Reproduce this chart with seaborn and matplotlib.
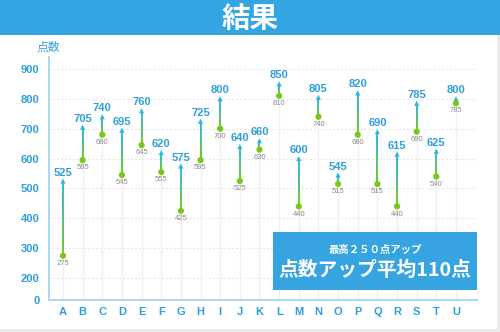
import numpy as np
import matplotlib
matplotlib.use("Agg")
import matplotlib.pyplot as plt
from matplotlib.collections import LineCollection
from matplotlib.colors import to_rgb
from matplotlib.patches import Rectangle
import seaborn as sns
import pandas as pd

# Scores before (low) and after (high) for each student
students = list("ABCDEFGHIJKLMNOPQRSTU")
before = [275, 595, 680, 545, 645, 555, 425, 595, 700, 525, 630,
          810, 440, 740, 515, 680, 515, 440, 690, 540, 785]
after = [525, 705, 740, 695, 760, 620, 575, 725, 800, 640, 660,
         850, 600, 805, 545, 820, 690, 615, 785, 625, 800]
y_ticks = [0, 200, 300, 400, 500, 600, 700, 800, 900]

title = "結果"
y_label = "点数"
box_sub = "最高２５０点アップ"
box_main = "点数アップ平均110点"

BLUE = "#2f9fdc"
BANNER = "#33a5e2"
CYAN = "#2bb8e8"
GREEN = "#78c81a"
GRAY_TXT = "#8a8a8a"
AXIS = "#a9d9ef"

sns.set_theme(style="white")
plt.rcParams["font.family"] = ["Liberation Sans", "Noto Sans CJK JP", "DejaVu Sans"]

df = pd.DataFrame({"student": students, "x": np.arange(len(students)),
                   "before": before, "after": after})

fig = plt.figure(figsize=(5.0, 3.32), dpi=100, facecolor="#ebebeb")
fig.patches.append(Rectangle((0, 0.009), 0.994, 0.991, transform=fig.transFigure,
                             facecolor="white", edgecolor="none", zorder=-2))
# Title banner
fig.patches.append(Rectangle((0, 1 - 35 / 332), 1, 35 / 332, transform=fig.transFigure,
                             facecolor=BANNER, edgecolor="none", zorder=-1))
fig.text(0.5, 1 - 18.5 / 332, title, color="white", fontsize=20.5, fontweight="bold",
         ha="center", va="center", family=["Noto Sans CJK JP"])

ax = fig.add_axes([49 / 500, 32 / 332, 428 / 500, 243 / 332])
ax.set_zorder(2)
ax.patch.set_alpha(0)

# Compressed range below 200 (axis break)
K = 0.367
def fwd(v):
    v = np.asarray(v, dtype=float)
    return np.where(v >= 200, v, 200 - (200 - v) * K)
def inv(t):
    t = np.asarray(t, dtype=float)
    return np.where(t >= 200, t, 200 - (200 - t) / K)
ax.set_yscale("function", functions=(fwd, inv))
ax.set_ylim(0, 940)
ax.set_xlim(-0.712, 21.07)

# Horizontal dotted grid
for t in y_ticks[1:]:
    ax.axhline(t, color="#e2e2e2", lw=0.8, ls=(0, (1.5, 2)), zorder=1)

# Vertical guide from baseline up to the starting score
ax.vlines(df["x"], 0, df["before"], color="#efefef", lw=0.9, zorder=1)

# Gradient segments from before (green) to after (cyan)
g, c = np.array(to_rgb(GREEN)), np.array(to_rgb(CYAN))
segs, cols = [], []
n = 30
for xi, lo, hi in zip(df["x"], df["before"], df["after"]):
    ys = np.linspace(lo, hi, n + 1)
    for i in range(n):
        segs.append([(xi, ys[i]), (xi, ys[i + 1])])
        f = (i + 0.5) / n
        cols.append(tuple(g * (1 - f) + c * f))
ax.add_collection(LineCollection(segs, colors=cols, linewidths=1.4, zorder=3,
                                 capstyle="butt"))

# Arrow heads and starting points
sns.scatterplot(data=df, x="x", y="after", marker="^", s=14, color=CYAN,
                edgecolor="none", ax=ax, zorder=4)
sns.scatterplot(data=df, x="x", y="before", marker="o", s=20, color=GREEN,
                edgecolor="none", ax=ax, zorder=4)

for xi, lo, hi in zip(df["x"], df["before"], df["after"]):
    ax.annotate(str(hi), (xi, hi), xytext=(0, 2.5), textcoords="offset points",
                ha="center", va="bottom", color=BLUE, fontsize=8, fontweight="bold",
                zorder=5)
    ax.annotate(str(lo), (xi, lo), xytext=(0, -3), textcoords="offset points",
                ha="center", va="top", color=GRAY_TXT, fontsize=5.5, zorder=5)

ax.set_yticks(y_ticks)
ax.set_yticklabels([str(t) for t in y_ticks])
ax.set_xticks(df["x"])
ax.set_xticklabels(students)
ax.tick_params(axis="both", length=0, colors=BLUE, labelsize=8)
ax.tick_params(axis="y", pad=7)
ax.tick_params(axis="x", pad=5)
for lab in ax.get_xticklabels() + ax.get_yticklabels():
    lab.set_fontweight("bold")
ax.set_xlabel("")
ax.set_ylabel("")

for side in ["top", "right"]:
    ax.spines[side].set_visible(False)
for side in ["left", "bottom"]:
    ax.spines[side].set_color(AXIS)
    ax.spines[side].set_linewidth(1.4)

fig.text(48 / 500, 1 - 47 / 332, y_label, color=BLUE, fontsize=8.5,
         ha="center", va="center", family=["Noto Sans CJK JP"])

# Summary box
bx0, bx1, by0, by1 = 273, 477, 232, 290
fig.patches.append(Rectangle((bx0 / 500, 1 - by1 / 332), (bx1 - bx0) / 500,
                             (by1 - by0) / 332, transform=fig.transFigure,
                             facecolor="#35a4e1", edgecolor="none", zorder=10))
fig.text((bx0 + bx1) / 2 / 500, 1 - 250 / 332, box_sub, color="white", fontsize=7.5,
         fontweight="bold", ha="center", va="center", zorder=11,
         family=["Noto Sans CJK JP"])
fig.text((bx0 + bx1) / 2 / 500, 1 - 270.5 / 332, box_main, color="white", fontsize=14.2,
         fontweight="bold", ha="center", va="center", zorder=11,
         family=["Noto Sans CJK JP"])

fig.savefig("out.png", dpi=100, facecolor=fig.get_facecolor())
